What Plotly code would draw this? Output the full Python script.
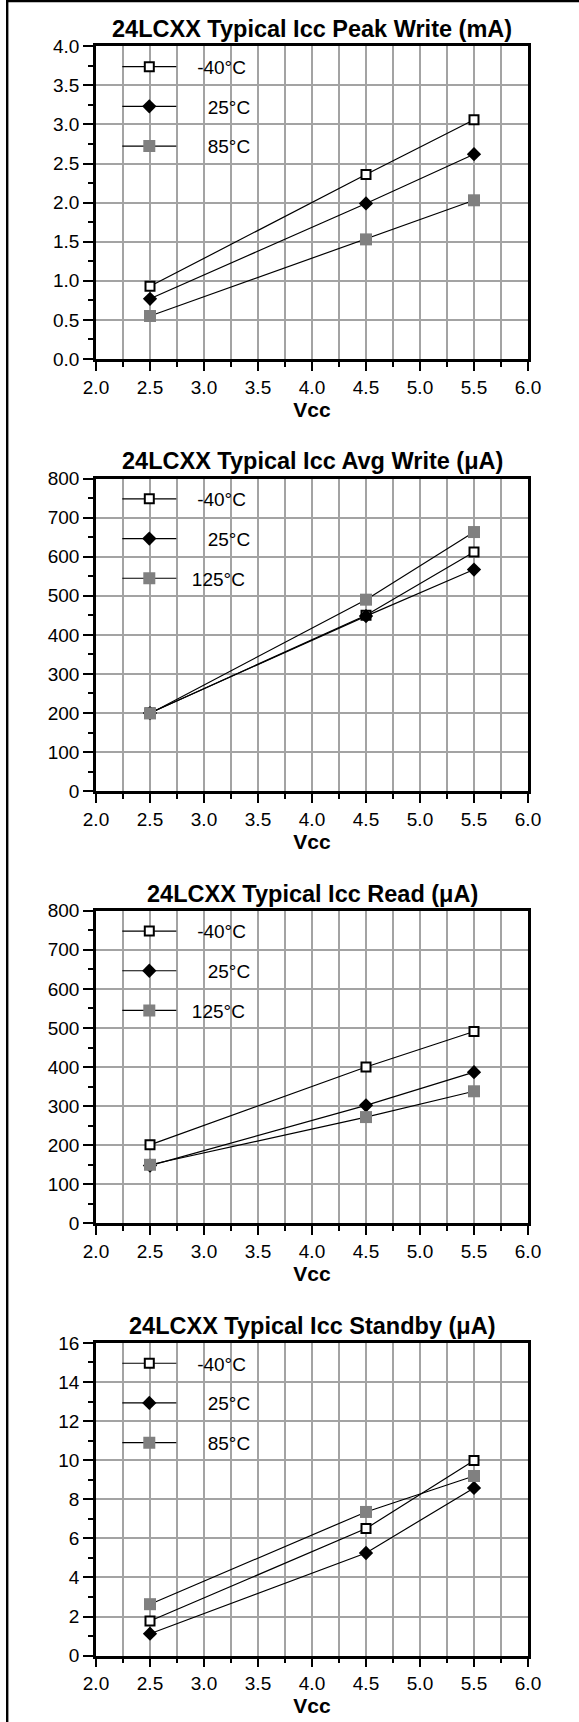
import plotly.graph_objects as go

W, H = 579, 1722

# ---------------- data ----------------
vcc = [2.5, 4.5, 5.5]

peak_m40 = [0.93, 2.36, 3.06]
peak_25 = [0.77, 1.99, 2.62]
peak_85 = [0.55, 1.53, 2.03]

avg_m40 = [200, 450, 612]
avg_25 = [200, 448, 567]
avg_125 = [199, 490, 663]

read_m40 = [201, 400, 491]
read_25 = [148, 302, 387]
read_125 = [150, 272, 338]

stby_m40 = [1.77, 6.5, 9.98]
stby_25 = [1.12, 5.25, 8.58]
stby_85 = [2.63, 7.35, 9.19]

titles = [
    "24LCXX Typical Icc Peak Write (mA)",
    "24LCXX Typical Icc Avg Write (\u03bcA)",
    "24LCXX Typical Icc Read (\u03bcA)",
    "24LCXX Typical Icc Standby (\u03bcA)",
]
labels_85 = ["-40°C", "25°C", "85°C"]
labels_125 = ["-40°C", "25°C", "125°C"]
x_label = "Vcc"

panels = [
    dict(title=titles[0], labels=labels_85, series=[peak_m40, peak_25, peak_85],
         yrange=[0, 4], dtick=0.5, minor=0.25, fmt=".1f"),
    dict(title=titles[1], labels=labels_125, series=[avg_m40, avg_25, avg_125],
         yrange=[0, 800], dtick=100, minor=50, fmt="d"),
    dict(title=titles[2], labels=labels_125, series=[read_m40, read_25, read_125],
         yrange=[0, 800], dtick=100, minor=50, fmt="d"),
    dict(title=titles[3], labels=labels_85, series=[stby_m40, stby_25, stby_85],
         yrange=[0, 16], dtick=2, minor=1, fmt="d"),
]

# ---------------- style ----------------
FONT = "Liberation Sans, Arial, Helvetica, sans-serif"
GRID = "#a3a3a3"
marker_styles = [
    dict(symbol="square", size=9, color="white", line=dict(color="black", width=2)),
    dict(symbol="diamond", size=11, color="black", line=dict(color="black", width=0)),
    dict(symbol="square", size=12, color="#808080", line=dict(color="#808080", width=0)),
]
NB = "\u00a0"

PX_LEFT, PX_RIGHT = 96, 528
TOP0, STEP, PH = 46.3, 432.2, 312.7
LEG_ITEM0, LEG_STEP = 20.4, 38.8   # px below plot top, px between items

fig = go.Figure()
layout = dict(
    width=W, height=H, margin=dict(l=0, r=0, t=0, b=0),
    paper_bgcolor="white", plot_bgcolor="white",
    font=dict(family=FONT, color="black", size=19),
    showlegend=True, annotations=[], shapes=[],
)

for k, p in enumerate(panels):
    top = TOP0 + STEP * k
    bot = top + PH
    xa = "x" if k == 0 else f"x{k+1}"
    ya = "y" if k == 0 else f"y{k+1}"
    lg = "legend" if k == 0 else f"legend{k+1}"
    for i, (vals, lab) in enumerate(zip(p["series"], p["labels"])):
        if i == 0:
            lab_txt = NB * 3 + lab
        elif lab == "125°C":
            lab_txt = NB * 2 + lab
        else:
            lab_txt = NB * 5 + lab
        fig.add_trace(go.Scatter(
            x=vcc, y=vals, mode="lines+markers", name=lab_txt,
            xaxis=xa, yaxis=ya, legend=lg, legendgroup=f"p{k}s{i}",
            line=dict(color="black", width=1.2),
            marker=marker_styles[i], cliponaxis=False,
        ))
        # white backing behind legend text (interrupts grid like the original)
        cy = top + LEG_ITEM0 + LEG_STEP * i
        layout["shapes"].append(dict(
            type="rect", xref="paper", yref="paper", layer="between",
            x0=195 / W, x1=252 / W, y0=1 - (cy + 9) / H, y1=1 - (cy - 9) / H,
            fillcolor="white", line=dict(width=0),
        ))
    axkey_x = "xaxis" if k == 0 else f"xaxis{k+1}"
    axkey_y = "yaxis" if k == 0 else f"yaxis{k+1}"
    layout[axkey_x] = dict(
        domain=[PX_LEFT / W, PX_RIGHT / W], anchor=ya, range=[2, 6],
        tick0=2, dtick=0.5, tickformat=".1f", ticks="outside", ticklen=9,
        tickwidth=2, tickcolor="black", showline=True, linewidth=2.5,
        linecolor="black", mirror=True, showgrid=True, gridcolor=GRID,
        gridwidth=1.5, zeroline=False, automargin=False,
        tickfont=dict(size=19),
        title=dict(text="<b>" + x_label + "</b>", font=dict(size=21), standoff=3),
        minor=dict(dtick=0.25, tick0=2, ticks="outside", ticklen=5, tickwidth=1.5,
                   tickcolor="black", showgrid=True, gridcolor=GRID, gridwidth=1.5),
    )
    layout[axkey_y] = dict(
        domain=[1 - bot / H, 1 - top / H], anchor=xa, range=p["yrange"],
        tick0=0, dtick=p["dtick"], tickformat=p["fmt"], ticks="outside",
        ticklen=10, tickwidth=2, tickcolor="black", showline=True,
        linewidth=2.5, linecolor="black", mirror=True, showgrid=True,
        gridcolor=GRID, gridwidth=1.5, zeroline=False, automargin=False,
        tickfont=dict(size=19),
        minor=dict(dtick=p["minor"], ticks="outside", ticklen=5, tickwidth=1.5,
                   tickcolor="black", showgrid=False),
    )
    layout[lg] = dict(
        x=(122.3 - 5) / W, y=1 - (top + 1.5) / H, xanchor="left", yanchor="top",
        bgcolor="rgba(0,0,0,0)", borderwidth=0, itemwidth=54,
        tracegroupgap=12, font=dict(size=19, family=FONT),
        itemclick=False, itemdoubleclick=False,
    )
    layout["annotations"].append(dict(
        text="<b>" + p["title"] + "</b>", xref="paper", yref="paper",
        x=(PX_LEFT + PX_RIGHT) / 2 / W, y=1 - (top - 17) / H,
        xanchor="center", yanchor="middle", showarrow=False,
        font=dict(size=23.5, family=FONT),
    ))

# outer frame (left and top edges visible)
layout["shapes"].append(dict(type="line", xref="paper", yref="paper",
                             x0=7.2 / W, x1=7.2 / W, y0=0, y1=1,
                             line=dict(color="black", width=2.4)))
layout["shapes"].append(dict(type="line", xref="paper", yref="paper",
                             x0=7.2 / W, x1=1, y0=1 - 1 / H, y1=1 - 1 / H,
                             line=dict(color="black", width=2.4)))

fig.update_layout(**layout)
fig.write_html("out.html")
